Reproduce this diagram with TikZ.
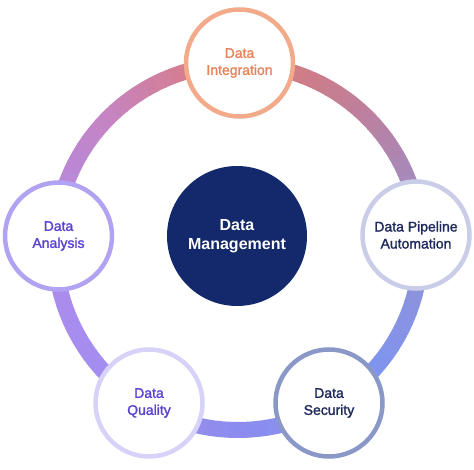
\documentclass[tikz,border=0pt]{standalone}
\usepackage{fontspec}
\setmainfont{Liberation Sans}
\newfontfamily\medfont[FakeBold=1.6]{Liberation Sans}
\usetikzlibrary{calc}
\definecolor{navy}{HTML}{13296B}
\definecolor{rTop}{HTML}{DE7A72}
\definecolor{rUL}{HTML}{C584C2}
\definecolor{rL}{HTML}{AE8CEC}
\definecolor{rLL}{HTML}{A28DF0}
\definecolor{rB}{HTML}{8C8CEE}
\definecolor{rLR}{HTML}{7E94F2}
\definecolor{rR}{HTML}{9292D4}
\definecolor{rUR}{HTML}{BC80A0}
\definecolor{bInt}{HTML}{F2AA8A}
\definecolor{tInt}{HTML}{E8845A}
\definecolor{bPipe}{HTML}{C9CDE8}
\definecolor{tDark}{HTML}{1F2A5C}
\definecolor{bSec}{HTML}{8A98C8}
\definecolor{bQual}{HTML}{D6D2F8}
\definecolor{tPurp}{HTML}{5C42D2}
\definecolor{bAna}{HTML}{B2A2F2}
\tikzset{
  outer/.style={circle, fill=white, line width=4.5pt, minimum size=107pt, inner sep=0pt, align=center, font=\medfont\fontsize{14}{17}\selectfont},
  centre/.style={circle, fill=navy, minimum size=140pt, inner sep=0pt, align=center, text=white, font=\bfseries\fontsize{16}{19}\selectfont}
}
\begin{document}
\begin{tikzpicture}[x=1pt,y=1pt]
\useasboundingbox (0,0) rectangle (474,469);
\coordinate (C) at (238,222);
\def\R{183}
\foreach \s/\e/\cs/\ce in {0/45/rR/rUR,45/90/rUR/rTop,90/135/rTop/rUL,135/180/rUL/rL,180/225/rL/rLL,225/270/rLL/rB,270/315/rB/rLR,315/360/rLR/rR}{
  \foreach \i in {0,...,14}{
    \pgfmathtruncatemacro\p{round(100*(\i+0.5)/15)}
    \pgfmathsetmacro\aa{\s+3*\i}
    \pgfmathsetmacro\ab{\s+3*\i+3.3}
    \draw[line width=16pt, color=\ce!\p!\cs] ($(C)+(\aa:\R)$) arc[start angle=\aa, end angle=\ab, radius=\R];
  }
}
\node[centre] (dm) at (237,233) {Data\\Management};
\node[outer, draw=bInt, text=tInt] (di) at (239.5,406) {Data\\Integration};
\node[outer, draw=bPipe, text=tDark] (dp) at (416,234) {Data Pipeline\\Automation};
\node[outer, draw=bSec, text=tDark] (ds) at (329,66) {Data\\Security};
\node[outer, draw=bQual, text=tPurp] (dq) at (149,66) {Data\\Quality};
\node[outer, draw=bAna, text=tPurp] (da) at (58.5,233) {Data\\Analysis};
\end{tikzpicture}
\end{document}
